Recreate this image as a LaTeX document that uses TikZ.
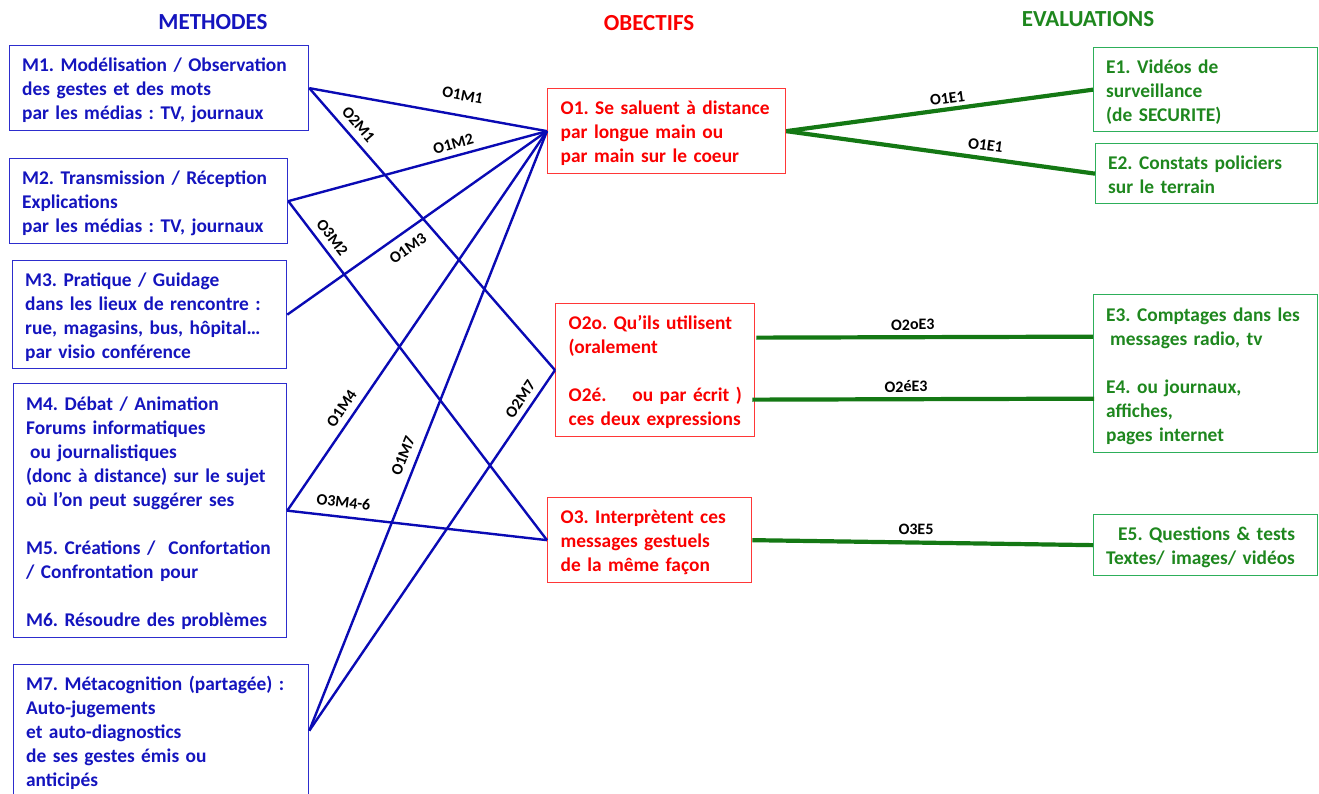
\documentclass[tikz,border=0pt]{standalone}
\usepackage{fontspec}
\setmainfont{Carlito}
\definecolor{tblue}{RGB}{20,20,190}
\definecolor{lblue}{RGB}{10,10,180}
\definecolor{bblue}{RGB}{45,45,205}
\definecolor{tred}{RGB}{250,0,0}
\definecolor{bred}{RGB}{255,55,55}
\definecolor{tgreen}{RGB}{30,135,30}
\definecolor{lgreen}{RGB}{20,120,20}
\definecolor{bgreen}{RGB}{45,175,90}
\newcommand\boxlines[1]{\begin{tabular}{@{}l@{}}\rule{0pt}{22.5pt}#1\end{tabular}}
\newcommand\boxlinesr[1]{\begin{tabular}{@{}r@{}}\rule{0pt}{22.5pt}#1\end{tabular}}
\begin{document}
\frenchspacing
\begin{tikzpicture}[x=1pt,y=-1pt,
  boxbase/.style={draw, line width=1.3pt, anchor=north west, inner ysep=0pt,
    font=\fontsize{19.4}{24}\selectfont\bfseries\frenchspacing},
  mbox/.style={boxbase, draw=bblue, text=tblue, align=left, inner xsep=12.5pt},
  obox/.style={boxbase, draw=bred, text=tred, align=left, inner xsep=13pt},
  ebox/.style={boxbase, draw=bgreen, text=tgreen, align=left, inner xsep=12.5pt},
  title/.style={font=\fontsize{23}{27}\selectfont\bfseries, inner sep=0pt},
  bl/.style={draw=lblue, line width=2.4pt},
  gr/.style={draw=lgreen, line width=4.2pt},
  lab/.style={font=\fontsize{16}{18}\selectfont\bfseries, text=black, inner sep=1pt, sloped}
]
\useasboundingbox (0,0) rectangle (1319,794);

% titles
\node[title, text=tblue] (tM) at (213,22) {METHODES};
\node[title, text=tred] (tO) at (649,23) {OBECTIFS};
\node[title, text=tgreen] (tE) at (1088,19) {EVALUATIONS};

% methods
\node[mbox, minimum height=85pt, text width=274pt] (M1) at (9,45)
  {\boxlines{M1. Modélisation / Observation\\des gestes et des mots\\par les médias : TV, journaux}};
\node[mbox, minimum height=85pt, text width=253pt] (M2) at (9,158)
  {\boxlines{M2. Transmission / Réception\\Explications\\par les médias : TV, journaux}};
\node[mbox, minimum height=108pt, text width=249pt] (M3) at (12,260)
  {\boxlines{M3. Pratique / Guidage\\dans les lieux de rencontre :\\rue, magasins, bus, hôpital…\\par visio conférence}};
\node[mbox, minimum height=254pt, text width=248pt] (M4) at (13,383)
  {\boxlines{M4. Débat / Animation\\Forums informatiques\\\hspace{4pt}ou journalistiques\\(donc à distance) sur le sujet\\où l’on peut suggérer ses\\ \\M5. Créations /\ \ Confortation\\/ Confrontation pour\\ \\M6. Résoudre des problèmes}};
\node[mbox, minimum height=132pt, text width=270pt] (M7) at (13,664)
  {\boxlines{M7. Métacognition (partagée) :\\Auto-jugements\\et auto-diagnostics\\de ses gestes émis ou\\anticipés}};

% objectives
\node[obox, minimum height=85pt, text width=212pt] (O1) at (547,88)
  {\boxlines{O1. Se saluent à distance\\par longue main ou\\par main sur le coeur}};
\node[obox, minimum height=133pt, text width=173pt, inner xsep=13pt] (O2) at (555,303)
  {\boxlines{O2o. Qu’ils utilisent\\(oralement\\ \\O2é.\ \ \ \ ou par écrit )\\ces deux expressions}};
\node[obox, minimum height=85pt, text width=178pt] (O3) at (547,497)
  {\boxlines{O3. Interprètent ces\\messages gestuels\\de la même façon}};

% evaluations
\node[ebox, minimum height=84pt, text width=199pt] (E1) at (1093,47)
  {\boxlines{E1. Vidéos de\\surveillance\\(de SECURITE)}};
\node[ebox, minimum height=60pt, text width=197pt] (E2) at (1095,143)
  {\boxlines{E2. Constats policiers\\sur le terrain}};
\node[ebox, minimum height=158pt, text width=199pt] (E3) at (1093,294)
  {\boxlines{E3. Comptages dans les\\\hspace{4pt}messages radio, tv\\ \\E4. ou journaux,\\affiches,\\pages internet}};
\node[ebox, minimum height=61pt, text width=199pt] (E5) at (1093,514)
  {\boxlinesr{E5. Questions \& tests\\Textes/ images/ vidéos}};

% blue connectors
\draw[bl] (M1.east) -- node[lab, pos=0.63, above=12.7pt] (lO1M1) {O1M1} (O1.west);
\draw[bl] (M1.east) -- node[lab, pos=0.16, above=5.6pt] (lO2M1) {O2M1} (O2.west);
\draw[bl] (M2.east) -- node[lab, pos=0.65, above=4.4pt] (lO1M2) {O1M2} (O1.west);
\draw[bl] (M2.east) -- node[lab, pos=0.13, above=5.5pt] (lO3M2) {O3M2} (O3.west);
\draw[bl] (M3.east) -- node[lab, pos=0.43, below=8pt] (lO1M3) {O1M3} (O1.west);
\draw[bl] (M4.east) -- node[lab, pos=0.25, above=5.3pt] (lO1M4) {O1M4} (O1.west);
\draw[bl] (M4.east) -- node[lab, pos=0.21, above=7.2pt] (lO3M4) {O3M4-6} (O3.west);
\draw[bl] (M7.east) -- node[lab, pos=0.45, above=6.7pt] (lO1M7) {O1M7} (O1.west);
\draw[bl] (M7.east) -- node[lab, pos=0.90, above=4.8pt] (lO2M7) {O2M7} (O2.west);

% green connectors
\draw[gr] (O1.east) -- node[lab, pos=0.53, above=2.5pt] (lO1E1a) {O1E1} (E1.west);
\draw[gr] (O1.east) -- node[lab, pos=0.64, above=4.5pt] (lO1E1b) {O1E1} (E2.west);
\draw[gr] ([xshift=1pt,yshift=32.5pt]O2.east) -- node[lab, pos=0.465, above=4pt] (lO2oE3) {O2oE3} ([yshift=37pt]E3.west);
\draw[gr] ([xshift=-3pt,yshift=-29.5pt]O2.east) -- node[lab, pos=0.45, above=4pt] (lO2eE3) {O2éE3} ([xshift=1pt,yshift=-25pt]E3.west);
\draw[gr] (O3.east) -- node[lab, pos=0.48, above=5pt] (lO3E5) {O3E5} (E5.west);
\end{tikzpicture}
\end{document}
